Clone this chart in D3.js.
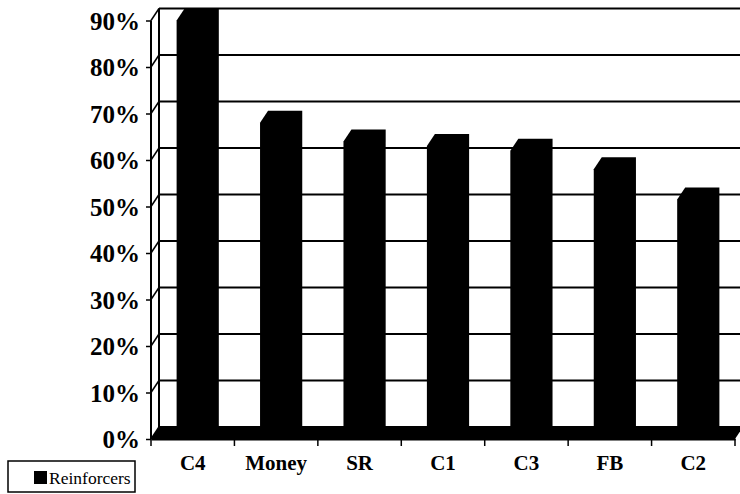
<!DOCTYPE html>
<html>
<head>
<meta charset="utf-8">
<script src="https://cdn.jsdelivr.net/npm/d3@7"></script>
<style>
  body { margin: 0; background: #fff; }
  svg text { fill: #000; }
</style>
</head>
<body>
<div class="chart"></div>
<script>
const categories = ["C4", "Money", "SR", "C1", "C3", "FB", "C2"];
const values = [0.90, 0.68, 0.64, 0.63, 0.62, 0.58, 0.515];
const yTicks = [0, 0.1, 0.2, 0.3, 0.4, 0.5, 0.6, 0.7, 0.8, 0.9];
const seriesName = "Reinforcers";
const serif = "Liberation Serif";

drawChart();

function drawChart() {
  const width = 740,
    height = 494,
    depthX = 8,
    depthY = 12,
    wallRight = 740;

  const svg = d3.select(".chart")
    .append("svg")
    .attr("width", width)
    .attr("height", height);

  // front plane scales, back wall is shifted by (depthX, -depthY)
  const x = d3.scaleBand()
    .domain(categories)
    .range([151, 735]);

  const y = d3.scaleLinear()
    .domain([0, 0.9])
    .range([439, 20.5]);

  const barW = x.bandwidth() * 0.41;

  // back wall gridlines
  svg.selectAll(".grid")
    .data(yTicks)
    .enter()
    .append("line")
    .attr("x1", x.range()[0] + depthX)
    .attr("x2", wallRight)
    .attr("y1", d => y(d) - depthY)
    .attr("y2", d => y(d) - depthY)
    .attr("stroke", "#000")
    .attr("stroke-width", 2);

  // side wall diagonals
  svg.selectAll(".diag")
    .data(yTicks)
    .enter()
    .append("line")
    .attr("x1", x.range()[0])
    .attr("y1", d => y(d))
    .attr("x2", x.range()[0] + depthX)
    .attr("y2", d => y(d) - depthY)
    .attr("stroke", "#000")
    .attr("stroke-width", 1.5);

  // back wall left edge
  svg.append("line")
    .attr("x1", x.range()[0] + depthX).attr("x2", x.range()[0] + depthX)
    .attr("y1", y(0.9) - depthY).attr("y2", y(0) - depthY)
    .attr("stroke", "#000").attr("stroke-width", 2);

  // black floor
  const x0 = x.range()[0], x1 = x.range()[1];
  svg.append("path")
    .attr("d", `M${x0},${y(0)} L${x1},${y(0)} L${x1 + depthX},${y(0) - depthY} L${x0 + depthX},${y(0) - depthY} Z`)
    .attr("fill", "#000");

  // bars: front, top and side faces, all black
  svg.selectAll(".bar")
    .data(values)
    .enter()
    .append("path")
    .attr("class", "bar")
    .attr("fill", "#000")
    .attr("d", (d, i) => {
      const xl = x(categories[i]) + (x.bandwidth() - barW) / 2 + 1,
        xr = xl + barW,
        yt = y(d),
        yb = y(0);
      return `M${xl},${yb} L${xl},${yt} L${xl + depthX},${yt - depthY} L${xr + depthX},${yt - depthY} L${xr + depthX},${yb - depthY} L${xr},${yb} Z`;
    });

  // y axis
  const yAxis = svg.append("g")
    .attr("transform", `translate(${x0},0)`)
    .call(d3.axisLeft(y).tickValues(yTicks).tickFormat(d3.format(".0%")).tickSize(5).tickPadding(6));
  yAxis.select(".domain").attr("stroke-width", 2).attr("d", `M0,${y(0.9)}V${y(0)}`);
  yAxis.selectAll(".tick line").attr("stroke-width", 1.5);
  yAxis.selectAll("text")
    .attr("font-family", serif)
    .attr("font-weight", "bold")
    .attr("font-size", 25)
    .attr("dy", "0.35em");

  // x axis
  const xAxis = svg.append("g")
    .attr("transform", `translate(0,${y(0)})`)
    .call(d3.axisBottom(x).tickSize(0).tickPadding(16));
  xAxis.select(".domain").attr("stroke-width", 2);
  xAxis.selectAll("text")
    .attr("font-family", serif)
    .attr("font-weight", "bold")
    .attr("font-size", 21);

  // ticks at category boundaries
  const bounds = categories.map(c => x(c)).concat([x1]);
  svg.selectAll(".xtick")
    .data(bounds)
    .enter()
    .append("line")
    .attr("x1", d => d).attr("x2", d => d)
    .attr("y1", y(0)).attr("y2", y(0) + 7)
    .attr("stroke", "#000").attr("stroke-width", 1.5);

  // legend
  const legend = svg.append("g").attr("class", "legend");
  legend.append("rect")
    .attr("x", 8).attr("y", 461)
    .attr("width", 127).attr("height", 31)
    .attr("fill", "#fff").attr("stroke", "#000").attr("stroke-width", 1.5);
  legend.append("rect")
    .attr("x", 34).attr("y", 471)
    .attr("width", 13).attr("height", 13)
    .attr("fill", "#000");
  legend.append("text")
    .attr("x", 49).attr("y", 484)
    .attr("font-family", serif)
    .attr("font-size", 17.5)
    .text(seriesName);
}
</script>
</body>
</html>
